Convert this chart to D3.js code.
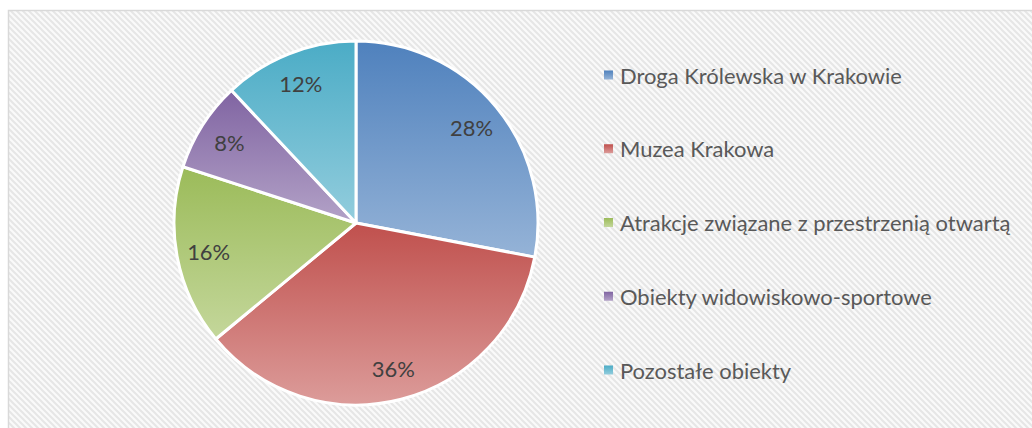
<!DOCTYPE html>
<html><head><meta charset="utf-8">
<script src="https://cdn.jsdelivr.net/npm/d3@7"></script>
<style>
html,body{margin:0;padding:0;background:#fff;}
svg{display:block;}
</style></head>
<body>
<svg id="c" width="1032" height="428"></svg>
<script>
const categories = ["Droga Królewska w Krakowie","Muzea Krakowa","Atrakcje związane z przestrzenią otwartą","Obiekty widowiskowo-sportowe","Pozostałe obiekty"];
const values = [28, 36, 16, 8, 12];
const labels = ["28%","36%","16%","8%","12%"];
const topColors = ["#4f81bd","#c0504d","#9bbb59","#8064a2","#4bacc6"];
const bottomColors = ["#95b3d7","#dc9c9a","#c4d79b","#b3a2c7","#93cddd"];

const svg = d3.select("#c");
const defs = svg.append("defs");
const pat = defs.append("pattern").attr("id","hatch").attr("patternUnits","userSpaceOnUse")
  .attr("width",6).attr("height",6);
pat.append("rect").attr("width",6).attr("height",6).attr("fill","#fafafa");
pat.append("path").attr("d","M-1,-1 L7,7 M-7,-1 L1,7 M5,-1 L13,7").attr("stroke","#e6e6e6").attr("stroke-width",2);

svg.append("rect").attr("x",0).attr("y",0).attr("width",1032).attr("height",428).attr("fill","#fff");
svg.append("rect").attr("x",8.5).attr("y",10.5).attr("width",1030).attr("height",430)
  .attr("fill","url(#hatch)").attr("stroke","#d9d9d9").attr("stroke-width",1.5);

categories.forEach((c,i)=>{
  const g = defs.append("linearGradient").attr("id","g"+i).attr("x1",0).attr("y1",0).attr("x2",0).attr("y2",1);
  g.append("stop").attr("offset","0%").attr("stop-color",topColors[i]);
  g.append("stop").attr("offset","100%").attr("stop-color",bottomColors[i]);
  const lg = defs.append("linearGradient").attr("id","lg"+i).attr("x1",0).attr("y1",0).attr("x2",0).attr("y2",1);
  lg.append("stop").attr("offset","0%").attr("stop-color",topColors[i]);
  lg.append("stop").attr("offset","100%").attr("stop-color",bottomColors[i]);
});

const cx = 356, cy = 223, R = 182;
const pie = d3.pie().sort(null).value(d=>d)(values);
const arc = d3.arc().innerRadius(0).outerRadius(R);
const labelArc = d3.arc().innerRadius(150).outerRadius(150);
const gp = svg.append("g").attr("transform",`translate(${cx},${cy})`);
gp.selectAll("path.s").data(pie).enter().append("path").attr("class","s")
  .attr("d",arc).attr("fill",(d,i)=>`url(#g${i})`)
  .attr("stroke","#fff").attr("stroke-width",3).attr("stroke-linejoin","round");
gp.selectAll("text.l").data(pie).enter().append("text").attr("class","l")
  .attr("transform",d=>`translate(${labelArc.centroid(d)})`)
  .attr("text-anchor","middle").attr("dominant-baseline","central")
  .attr("font-family","Lato, 'Open Sans', sans-serif").attr("font-size",20)
  .attr("fill","#404040").text((d,i)=>labels[i]);

const leg = svg.append("g");
const ly = d3.scalePoint().domain(categories).range([75,370]);
categories.forEach((c,i)=>{
  const y = ly(c);
  leg.append("rect").attr("x",604).attr("y",y-4.5).attr("width",9).attr("height",9).attr("fill",`url(#lg${i})`);
  leg.append("text").attr("x",620).attr("y",y).attr("dominant-baseline","central")
    .attr("font-family","Lato, 'Open Sans', sans-serif").attr("font-size",20)
    .attr("fill","#595959").text(c);
});
const t0 = leg.select("text").node();
const w = t0.getComputedTextLength();
const fs = 20 * 282 / w;
leg.selectAll("text").attr("font-size",fs);
gp.selectAll("text.l").attr("font-size",fs);
</script>
</body></html>
